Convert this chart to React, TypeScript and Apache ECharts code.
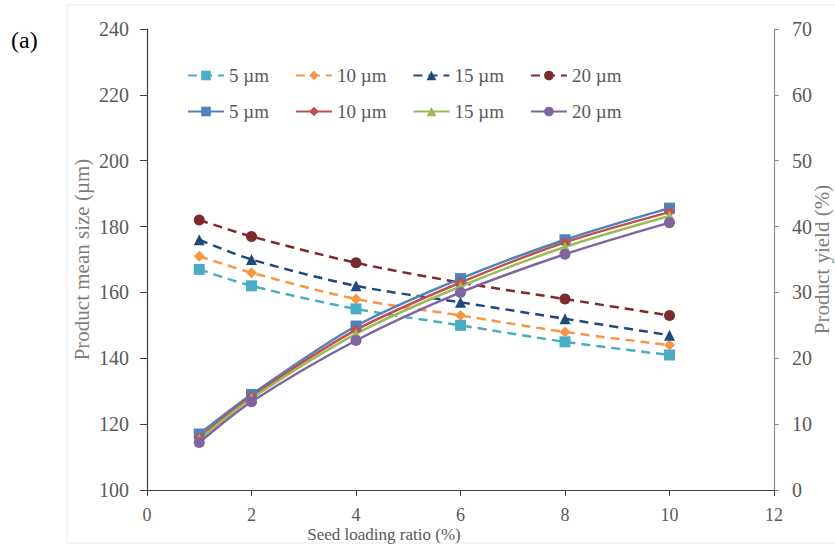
import React, { useEffect, useRef } from "react";
import * as echarts from "echarts";

const xValues = [1, 2, 4, 6, 8, 10];
const sizeNames = ["5", "10", "15", "20"];

// Product mean size (µm), left axis — dashed series
const meanSize5 = [167, 162, 155, 150, 145, 141];
const meanSize10 = [171, 166, 158, 153, 148, 144];
const meanSize15 = [176, 170, 162, 157, 152, 147];
const meanSize20 = [182, 177, 169, 163, 158, 153];

// Product yield (%), right axis — solid series
const yield5 = [8.5, 14.5, 24.9, 32.1, 38.0, 42.8];
const yield10 = [8.0, 14.2, 24.3, 31.5, 37.6, 42.2];
const yield15 = [7.7, 13.9, 23.7, 30.9, 36.9, 41.6];
const yield20 = [7.2, 13.4, 22.7, 30.0, 35.8, 40.6];

const leftTicks = { min: 100, max: 240, interval: 20 };
const rightTicks = { min: 0, max: 70, interval: 10 };
const xTicks = { min: 0, max: 12, interval: 2 };

const dashedColors = ["#4bacc6", "#f79646", "#1f497d", "#7b2b2b"];
const solidColors = ["#4f81bd", "#c0504d", "#9bbb59", "#8064a2"];
const symbols = ["rect", "diamond", "triangle", "circle"];
const symbolSizes = [11, 11, 11, 11];

const FONT = "Liberation Serif, Times New Roman, serif";

export default function App() {
  const ref = useRef<HTMLDivElement>(null);
  useEffect(() => {
    document.body.style.margin = "0";
    if (!ref.current) return;
    const chart = echarts.init(ref.current, null, { renderer: "svg" });
    const meanSets = [meanSize5, meanSize10, meanSize15, meanSize20];
    const yieldSets = [yield5, yield10, yield15, yield20];
    const toPairs = (arr: number[]) => arr.map((v, i) => [xValues[i], v]);

    const dashedSeries = meanSets.map((arr, i) => ({
      name: "d" + sizeNames[i],
      type: "line",
      yAxisIndex: 0,
      data: toPairs(arr),
      smooth: 0.3,
      symbol: symbols[i],
      symbolSize: symbolSizes[i],
      showAllSymbol: true,
      itemStyle: { color: dashedColors[i] },
      lineStyle: { color: dashedColors[i], width: 2.5, type: [9, 6] },
      z: 2,
    }));
    const solidSeries = yieldSets.map((arr, i) => ({
      name: "s" + sizeNames[i],
      type: "line",
      yAxisIndex: 1,
      data: toPairs(arr),
      smooth: 0.3,
      symbol: symbols[i],
      symbolSize: symbolSizes[i],
      showAllSymbol: true,
      itemStyle: { color: solidColors[i] },
      lineStyle: { color: solidColors[i], width: 2.5 },
      z: 3,
    }));

    const legendCommon = {
      left: 182,
      orient: "horizontal",
      itemWidth: 36,
      itemHeight: 12,
      itemGap: 26,
      formatter: (n: string) => n.slice(1) + " µm",
      textStyle: { fontFamily: FONT, fontSize: 19, color: "#595959", width: 52 },
    };

    chart.setOption({
      animation: false,
      backgroundColor: "#ffffff",
      textStyle: { fontFamily: FONT },
      grid: { left: 147, right: 61, top: 29, bottom: 59, containLabel: false, outerBoundsMode: "none" },
      legend: [
        { ...legendCommon, top: 61, data: sizeNames.map((s) => "d" + s) },
        { ...legendCommon, top: 97, data: sizeNames.map((s) => "s" + s) },
      ],
      graphic: [
        {
          type: "rect",
          shape: { x: 67, y: 5, width: 780, height: 538 },
          style: { fill: "none", stroke: "#ececec", lineWidth: 1 },
          silent: true,
          z: -1,
        },
        {
          type: "text",
          x: 11,
          y: 40,
          style: { text: "(a)", fontFamily: FONT, fontSize: 24, fill: "#000000", verticalAlign: "middle" },
        },
      ],
      xAxis: {
        type: "value",
        ...xTicks,
        name: "Seed loading ratio (%)",
        nameLocation: "middle",
        nameGap: 36,
        nameMoveOverlap: false,
        nameTextStyle: { fontFamily: FONT, fontSize: 17, color: "#595959", padding: [0, 153, 0, 0] },
        axisLine: { show: true, lineStyle: { color: "#404040", width: 1.2 } },
        axisTick: { show: true, inside: false, length: 6, lineStyle: { color: "#404040" } },
        axisLabel: { fontFamily: FONT, fontSize: 18, color: "#595959", margin: 16 },
        splitLine: { show: false },
      },
      yAxis: [
        {
          type: "value",
          position: "left",
          ...leftTicks,
          name: "Product mean size (µm)",
          nameLocation: "middle",
          nameRotate: 90,
          nameGap: 55,
          nameMoveOverlap: false,
          nameTextStyle: { fontFamily: FONT, fontSize: 21, color: "#7f7f7f" },
          axisLine: { show: true, lineStyle: { color: "#404040", width: 1.2 } },
          axisTick: { show: true, inside: false, length: 7, lineStyle: { color: "#404040" } },
          axisLabel: { fontFamily: FONT, fontSize: 20, color: "#595959", margin: 18 },
          splitLine: { show: false },
        },
        {
          type: "value",
          position: "right",
          ...rightTicks,
          name: "Product yield (%)",
          nameLocation: "middle",
          nameRotate: 90,
          nameGap: 37,
          nameMoveOverlap: false,
          nameTextStyle: { fontFamily: FONT, fontSize: 21, color: "#7f7f7f" },
          axisLine: { show: true, lineStyle: { color: "#8c8c8c", width: 1.2 } },
          axisTick: { show: true, inside: false, length: 5, lineStyle: { color: "#8c8c8c" } },
          axisLabel: { fontFamily: FONT, fontSize: 20, color: "#595959", margin: 18 },
          splitLine: { show: false },
        },
      ],
      series: [...dashedSeries, ...solidSeries],
    });
    return () => chart.dispose();
  }, []);
  return <div ref={ref} style={{ width: 835, height: 549 }} />;
}
